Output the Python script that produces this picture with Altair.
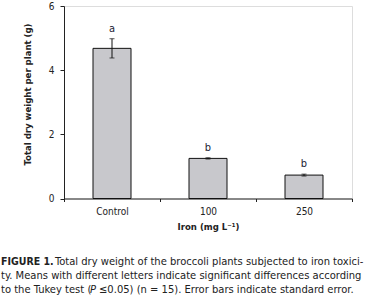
import altair as alt
import pandas as pd

categories = ["Control", "100", "250"]
means = [4.68, 1.25, 0.73]
errors = [0.30, 0.02, 0.03]
letters = ["a", "b", "b"]
y_ticks = [0, 2, 4, 6]

FONT = "DejaVu Sans Condensed, Roboto Condensed, Arial Narrow, Roboto, sans-serif"

df = pd.DataFrame({
    "cat": categories,
    "mean": means,
    "se": errors,
    "letter": letters,
})
df["lo"] = df["mean"] - df["se"]
df["hi"] = df["mean"] + df["se"]

xenc = alt.X(
    "cat:N",
    sort=categories,
    scale=alt.Scale(paddingInner=0, paddingOuter=0),
    axis=alt.Axis(
        title="Iron (mg L\u207b\u00b9)",
        labelAngle=0,
        tickBand="extent",
        tickSize=3,
        labelPadding=5,
        labelFont=FONT, labelFontSize=10, labelColor="#222",
        titleFont=FONT, titleFontSize=9.5, titleFontWeight="bold", titleColor="#222",
        titlePadding=5,
        domainColor="#222", tickColor="#222",
    ),
)
yscale = alt.Scale(domain=[0, 6], nice=False)

base = alt.Chart(df)

bars = base.mark_bar(size=38, color="#c8c8cc", stroke="#111", strokeWidth=1).encode(
    x=xenc,
    y=alt.Y(
        "mean:Q",
        scale=yscale,
        axis=alt.Axis(
            title="Total dry weight per plant (g)",
            values=y_ticks,
            grid=False,
            tickSize=4,
            labelPadding=6,
            labelFont=FONT, labelFontSize=10, labelColor="#222",
            titleFont=FONT, titleFontSize=9.5, titleFontWeight="bold", titleColor="#222",
            titleX=-37, titleY=88, titleBaseline="middle",
            domainColor="#222", tickColor="#222",
        ),
    ),
)

rules = base.mark_rule(color="#111", strokeWidth=1).encode(
    x=alt.X("cat:N", sort=categories), y=alt.Y("lo:Q", scale=yscale), y2="hi:Q"
)
caps_hi = base.mark_tick(color="#111", size=5, thickness=1).encode(
    x=alt.X("cat:N", sort=categories), y=alt.Y("hi:Q", scale=yscale)
)
caps_lo = base.mark_tick(color="#111", size=5, thickness=1).encode(
    x=alt.X("cat:N", sort=categories), y=alt.Y("lo:Q", scale=yscale)
)
labels = base.mark_text(font=FONT, fontSize=11, color="#223", baseline="bottom", dy=-5).encode(
    x=alt.X("cat:N", sort=categories), y=alt.Y("hi:Q", scale=yscale), text="letter:N"
)

cap_df = pd.DataFrame({"t": ["x"]})
capbase = alt.Chart(cap_df)
CS = 11.1
cap1a = capbase.mark_text(font=FONT, fontSize=10.5, fontWeight="bold", align="left", color="#222").encode(
    x=alt.value(-63), y=alt.value(256), text=alt.value("FIGURE 1.")
)
cap1b = capbase.mark_text(font=FONT, fontSize=CS, align="left", color="#222").encode(
    x=alt.value(-9), y=alt.value(256),
    text=alt.value("Total dry weight of the broccoli plants subjected to iron toxici-"),
)
cap2 = capbase.mark_text(font=FONT, fontSize=CS, align="left", color="#222").encode(
    x=alt.value(-63), y=alt.value(270),
    text=alt.value("ty. Means with different letters indicate significant differences according"),
)
cap3a = capbase.mark_text(font=FONT, fontSize=CS, align="left", color="#222").encode(
    x=alt.value(-63), y=alt.value(284), text=alt.value("to the Tukey test (")
)
cap3b = capbase.mark_text(font=FONT, fontSize=CS, fontStyle="italic", align="left", color="#222").encode(
    x=alt.value(26), y=alt.value(284), text=alt.value("P")
)
cap3c = capbase.mark_text(font=FONT, fontSize=CS, align="left", color="#222").encode(
    x=alt.value(35), y=alt.value(284),
    text=alt.value("\u22640.05) (n = 15). Error bars indicate standard error."),
)

chart = alt.layer(
    bars, rules, caps_hi, caps_lo, labels, cap1a, cap1b, cap2, cap3a, cap3b, cap3c
).properties(
    width=288, height=192.5,
    autosize=alt.AutoSizeParams(type="none"),
    padding={"left": 64, "top": 6, "right": 19, "bottom": 100},
).configure_view(stroke=None).configure(background="white")

chart.save("out.html", embed_options={"renderer": "svg", "actions": False})
